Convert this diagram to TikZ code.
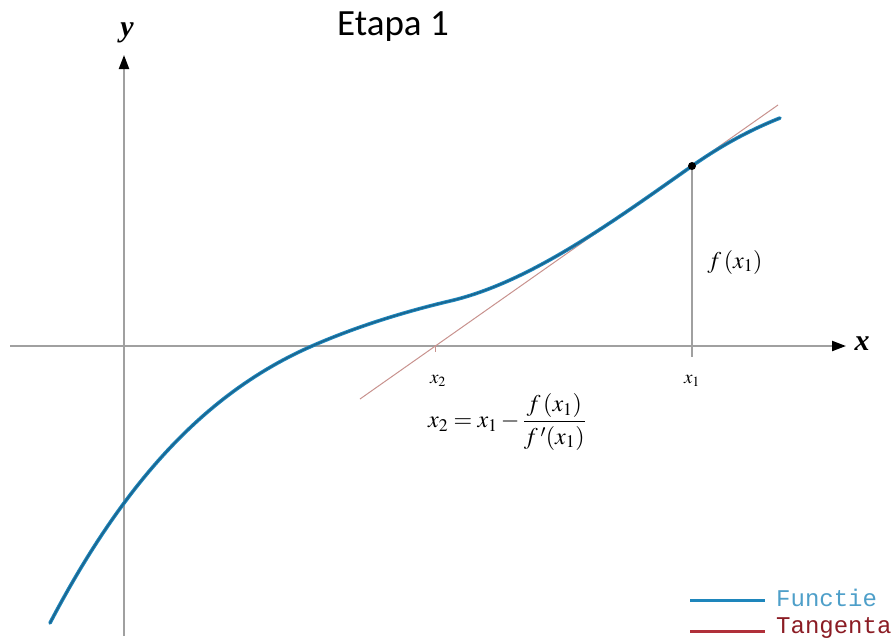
\documentclass[tikz,border=0pt]{standalone}
\usepackage{mathptmx}
\usepackage{fontspec}
\newfontfamily\titlefont{Carlito}
\newfontfamily\legfont{Liberation Mono}
\newfontfamily\serifT{Liberation Serif}
\usetikzlibrary{arrows.meta}
\definecolor{axisgray}{HTML}{A0A0A0}
\definecolor{funcblue}{HTML}{1E86BC}
\definecolor{funcdark}{HTML}{1A6690}
\definecolor{tancol}{HTML}{C8928E}
\definecolor{legblue}{HTML}{4E9FC9}
\definecolor{legred}{HTML}{B0303A}
\definecolor{legredtxt}{HTML}{8B1C24}
\tikzset{
  axisline/.style={draw=axisgray, line width=2.2pt, -{Triangle[length=14pt,width=10pt,color=black]}},
  funcline/.style={draw=funcblue, line width=3.6pt, line cap=round},
  funccore/.style={draw=funcdark, line width=1.6pt, line cap=round},
  tanline/.style={draw=tancol, line width=1pt},
  smlbl/.style={inner sep=0pt, font=\fontsize{19}{22}\selectfont},
  lbl/.style={inner sep=0pt, font=\fontsize{24}{28}\selectfont},
  axlbl/.style={inner sep=0pt, font=\serifT\bfseries\itshape\fontsize{30}{32}\selectfont},
  legtext/.style={anchor=west, inner sep=0pt, font=\legfont\fontsize{24}{26}\selectfont},
}
\begin{document}
\begin{tikzpicture}[x=1pt,y=-1pt]
\useasboundingbox (0,0) rectangle (895,643);
% axes
\coordinate (xl) at (10,346);
\coordinate (xr) at (846,346);
\coordinate (yb) at (124,636);
\coordinate (yt) at (124,55);
\draw[axisline] (xl) -- (xr);
\draw[axisline] (yb) -- (yt);
\node[axlbl] (ylab) at (127,33) {y};
\node[axlbl] (xlab) at (862,344) {x};
% tangent
\coordinate (t0) at (360,399);
\coordinate (t1) at (778,105);
\draw[tanline] (t0) -- (t1);
\coordinate (x2a) at (435,346);
\coordinate (x2b) at (435,352);
\draw[tancol, line width=0.8pt] (x2a) -- (x2b);
% vertical at x1
\coordinate (p1) at (692,166);
\coordinate (x1b) at (692,357);
\draw[axisgray, line width=1.6pt] (p1) -- (x1b);
% curve
\def\curvepath{(50,623) .. controls (125,480) and (207,392) .. (312,346) .. controls (357,326.3) and (405,311.6) .. (450,301) .. controls (530,282.2) and (612,222.3) .. (692,166) .. controls (722,145) and (750,130) .. (780,118)}
\draw[funcline] \curvepath;
\draw[funccore] \curvepath;
\fill[black] (p1) circle (4pt);
% labels
\node[lbl] (fx1) at (735,262) {$f\,(x_1)$};
\node[smlbl] (x1lab) at (692,381) {$x_1$};
\node[smlbl] (x2lab) at (438,381) {$x_2$};
\node[lbl] (form) at (507,422) {$\displaystyle x_2 = x_1 - \frac{f\,(x_1)}{f\,'(x_1)}$};
% title
\node[inner sep=0pt, font=\titlefont\fontsize{37}{40}\selectfont] (title) at (393,27) {Etapa 1};
% legend
\coordinate (lb0) at (690,600);
\coordinate (lb1) at (765,600);
\coordinate (lr0) at (690,631);
\coordinate (lr1) at (765,631);
\draw[funcblue, line width=3pt] (lb0) -- (lb1);
\draw[legred, line width=3pt] (lr0) -- (lr1);
\node[legtext, text=legblue] (legf) at (776,598) {Functie};
\node[legtext, text=legredtxt] (legt) at (776,628) {Tangenta};
\end{tikzpicture}
\end{document}
